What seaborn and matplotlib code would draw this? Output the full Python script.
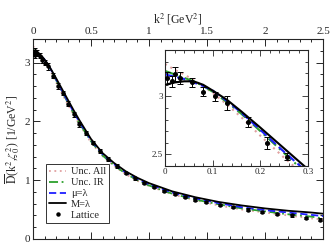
import matplotlib
matplotlib.use("Agg")
import matplotlib.pyplot as plt
from matplotlib.ticker import MultipleLocator
import seaborn as sns
import pandas as pd
import numpy as np

# ---- data ----
k_curve = [0, 0.02, 0.04, 0.06, 0.08, 0.1, 0.13, 0.16, 0.2, 0.25, 0.3, 0.35, 0.4,
           0.5, 0.6, 0.7, 0.8, 0.9, 1.0, 1.2, 1.4, 1.6, 1.8, 2.0, 2.2, 2.4, 2.5]
m_lambda = [3.10, 3.12, 3.13, 3.13, 3.10, 3.05, 2.97, 2.87, 2.73, 2.55, 2.37, 2.19, 2.02,
            1.70, 1.46, 1.29, 1.15, 1.04, 0.95, 0.81, 0.71, 0.63, 0.57, 0.52, 0.48, 0.45, 0.43]
mu_lambda = [3.19, 3.17, 3.15, 3.12, 3.09, 3.05, 2.96, 2.86, 2.71, 2.52, 2.34, 2.16, 1.99,
             1.68, 1.44, 1.27, 1.13, 1.02, 0.93, 0.79, 0.69, 0.61, 0.54, 0.49, 0.45, 0.41, 0.39]
unc_ir = [3.22, 3.19, 3.16, 3.13, 3.09, 3.04, 2.95, 2.85, 2.70, 2.51, 2.32, 2.14, 1.97,
          1.66, 1.42, 1.25, 1.11, 1.00, 0.91, 0.77, 0.67, 0.59, 0.52, 0.47, 0.42, 0.38, 0.35]
unc_all = [3.28, 3.23, 3.19, 3.14, 3.09, 3.03, 2.93, 2.82, 2.66, 2.47, 2.29, 2.11, 1.95,
           1.64, 1.41, 1.24, 1.10, 0.99, 0.90, 0.76, 0.66, 0.57, 0.50, 0.45, 0.40, 0.35, 0.33]

lat_k = [0.005, 0.015, 0.021, 0.032, 0.057, 0.08, 0.105, 0.13, 0.173, 0.213, 0.255,
         0.30, 0.35, 0.40, 0.46, 0.52, 0.58, 0.65, 0.72, 0.80, 0.88, 0.96, 1.04, 1.13,
         1.22, 1.31, 1.40, 1.49, 1.61, 1.72, 1.85, 1.97, 2.10, 2.23, 2.35, 2.47]
lat_v = [3.16, 3.13, 3.19, 3.16, 3.12, 3.04, 3.00, 2.94, 2.78, 2.60, 2.48,
         2.30, 2.12, 1.95, 1.80, 1.64, 1.50, 1.36, 1.24, 1.12, 1.03, 0.95, 0.88, 0.82,
         0.76, 0.71, 0.67, 0.63, 0.58, 0.54, 0.50, 0.46, 0.43, 0.40, 0.36, 0.33]
lat_err = [0.05, 0.05, 0.06, 0.05, 0.04, 0.04, 0.04, 0.06, 0.04, 0.05, 0.03,
           0.04, 0.04, 0.04, 0.03, 0.03, 0.03, 0.03, 0.03, 0.02, 0.02, 0.02, 0.02, 0.02,
           0.02, 0.02, 0.02, 0.02, 0.02, 0.02, 0.02, 0.02, 0.02, 0.02, 0.02, 0.02]

series_names = ["Unc. All", "Unc. IR", "\u03bc=\u03bb", "M=\u03bb"]
series_vals = [unc_all, unc_ir, mu_lambda, m_lambda]
series_colors = ["#e0a0a0", "#2ca02c", "#1f1fff", "black"]
series_dash = [(1, 2), (5, 2, 1, 2), (4, 2), ""]

df = pd.concat([pd.DataFrame({"k": k_curve, "D": v, "s": n})
                for n, v in zip(series_names, series_vals)], ignore_index=True)
lat = pd.DataFrame({"k": lat_k, "D": lat_v, "e": lat_err})

sns.set_style("ticks")
plt.rcParams["font.family"] = ["Liberation Serif", "DejaVu Serif"]
plt.rcParams["mathtext.fontset"] = "stix"

fig = plt.figure(figsize=(3.32, 2.44), dpi=100)
ax = fig.add_axes([0.0994, 0.0205, 0.8736, 0.8195])
ins = fig.add_axes([0.497, 0.320, 0.431, 0.475])


def draw(a, ms, lw, cap):
    sns.lineplot(data=df, x="k", y="D", hue="s", style="s",
                 palette=dict(zip(series_names, series_colors)),
                 dashes=dict(zip(series_names, series_dash)),
                 hue_order=series_names, style_order=series_names,
                 linewidth=lw, ax=a, legend=False, sort=False)
    a.errorbar(lat["k"], lat["D"], yerr=lat["e"], fmt="o", color="black",
               ms=ms, elinewidth=0.7, capsize=cap, capthick=0.7, zorder=5)
    a.set_xlabel("")
    a.set_ylabel("")


draw(ax, 2.2, 1.3, 1.5)
draw(ins, 2.6, 1.5, 2.0)

# main axes styling
ax.set_xlim(0, 2.5)
ax.set_ylim(0, 3.4)
ax.xaxis.set_major_locator(MultipleLocator(0.5))
ax.xaxis.set_minor_locator(MultipleLocator(0.1))
ax.yaxis.set_major_locator(MultipleLocator(1))
ax.yaxis.set_minor_locator(MultipleLocator(0.2))
ax.tick_params(which="both", direction="in", top=True, right=True, bottom=True, left=True,
               labeltop=True, labelbottom=False, labelsize=8, width=0.7, pad=2)
ax.tick_params(which="major", length=5)
ax.tick_params(which="minor", length=2.5)
ax.set_xticks([0, 0.5, 1, 1.5, 2, 2.5])
ax.set_xticklabels(["0", "0.5", "1", "1.5", "2", "2.5"])
ax.xaxis.set_label_position("top")
ax.set_xlabel(r"k$^2$ [GeV$^2$]", fontsize=8.5, labelpad=3)
ax.set_ylabel(r"$\overline{\rm D}$(k$^2$,$\zeta_0^2$) [1/GeV$^2$]", fontsize=8.5, labelpad=2)
for s in ax.spines.values():
    s.set_linewidth(0.8)

# inset styling
ins.set_xlim(0, 0.3)
ins.set_ylim(2.4, 3.4)
ins.xaxis.set_major_locator(MultipleLocator(0.1))
ins.xaxis.set_minor_locator(MultipleLocator(0.02))
ins.yaxis.set_major_locator(MultipleLocator(0.5))
ins.yaxis.set_minor_locator(MultipleLocator(0.1))
ins.set_xticks([0, 0.1, 0.2, 0.3])
ins.set_xticklabels(["0", "0.1", "0.2", "0.3"])
ins.set_yticks([2.5, 3])
ins.set_yticklabels(["2.5", "3"])
ins.tick_params(which="both", direction="in", top=True, right=True, labelsize=6.5,
                width=0.6, pad=1.5)
ins.tick_params(which="major", length=4)
ins.tick_params(which="minor", length=2)
for s in ins.spines.values():
    s.set_linewidth(0.8)

# legend
from matplotlib.lines import Line2D
handles = [Line2D([], [], color=c, lw=1.3, dashes=d if d else (None, None), linestyle="-")
           for c, d in zip(series_colors, series_dash)]
handles[3] = Line2D([], [], color="black", lw=1.3)
handles.append(Line2D([], [], color="black", marker="o", ms=2.2, linestyle="none"))
leg = ax.legend(handles, series_names + ["Lattice"], loc="lower left",
                bbox_to_anchor=(0.045, 0.08), fontsize=7.5, frameon=True, fancybox=False,
                edgecolor="black", handlelength=1.6, handletextpad=0.5, labelspacing=0.15,
                borderpad=0.3, borderaxespad=0)
leg.get_frame().set_linewidth(0.7)

fig.savefig("out.png", dpi=100)
